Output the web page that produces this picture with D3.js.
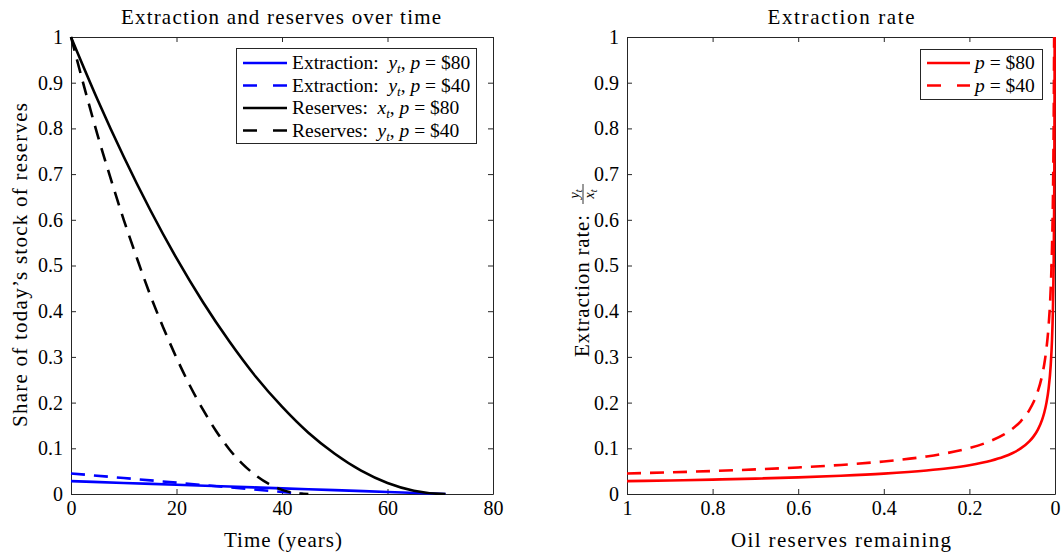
<!DOCTYPE html>
<html>
<head>
<meta charset="utf-8">
<script src="https://cdn.jsdelivr.net/npm/d3@7"></script>
<style>
  body { margin: 0; background: #fff; }
  svg text { font-family: "Liberation Serif", "Times New Roman", serif; fill: #000; }
</style>
</head>
<body>
<svg id="chart" width="1061" height="557"></svg>
<script>
// ---- Left panel: reserves and extraction paths over time (years) ----
const timeP80 = [0, 5, 10, 15, 20, 25, 30, 35, 40, 45, 50, 55, 60, 65, 70, 71];
const reservesP80 = [1, 0.864, 0.738, 0.622, 0.516, 0.420, 0.334, 0.257, 0.191, 0.134, 0.088, 0.051, 0.024, 0.007, 0.0002, 0];

const timeP40 = [0, 2.5, 5, 7.5, 10, 12.5, 15, 17.5, 20, 22.5, 25, 27.5, 30, 32.5, 35, 37.5, 40, 42.5, 45];
const reservesP40 = [1, 0.891, 0.787, 0.691, 0.600, 0.516, 0.436, 0.364, 0.298, 0.238, 0.185, 0.138, 0.098, 0.066, 0.041, 0.022, 0.009, 0.002, 0];

const extractTimeP80 = [0, 10, 20, 30, 40, 50, 60, 71];
const extractionP80 = [0.0282, 0.0242, 0.0203, 0.0163, 0.0123, 0.0084, 0.0044, 0];

const extractTimeP40 = [0, 10, 20, 30, 40, 44];
const extractionP40 = [0.045, 0.0349, 0.0248, 0.0146, 0.0045, 0];

// ---- Right panel: extraction rate y/x against reserves remaining ----
const remaining80 = [1, 0.9, 0.8, 0.7, 0.6, 0.5, 0.4, 0.3, 0.25, 0.2, 0.15, 0.12, 0.1, 0.08, 0.06, 0.05, 0.04, 0.03, 0.025, 0.02, 0.015, 0.01, 0.007, 0.005, 0.004, 0.003, 0.002, 0.0015, 0.001, 0.0008];
const rate80 = [0.0282, 0.0297, 0.0315, 0.0337, 0.0364, 0.0399, 0.0446, 0.0515, 0.0564, 0.0631, 0.0728, 0.0814, 0.0892, 0.0997, 0.1151, 0.1261, 0.141, 0.1628, 0.1784, 0.1994, 0.2302, 0.282, 0.337, 0.399, 0.446, 0.515, 0.631, 0.728, 0.892, 1.0];

const remaining40 = [1, 0.9, 0.8, 0.7, 0.6, 0.5, 0.4, 0.3, 0.25, 0.2, 0.15, 0.12, 0.1, 0.08, 0.06, 0.05, 0.04, 0.03, 0.025, 0.02, 0.015, 0.01, 0.007, 0.005, 0.004, 0.003, 0.002];
const rate40 = [0.045, 0.0474, 0.0503, 0.0538, 0.0581, 0.0636, 0.0712, 0.0822, 0.090, 0.1006, 0.1162, 0.1299, 0.1423, 0.1591, 0.1837, 0.2012, 0.225, 0.2598, 0.2846, 0.3182, 0.3674, 0.45, 0.538, 0.636, 0.711, 0.822, 1.0];

// ---- Tick values and labels ----
const timeTicks = [0, 20, 40, 60, 80];
const timeTickLabels = ["0", "20", "40", "60", "80"];
const shareTicks = [0, 0.1, 0.2, 0.3, 0.4, 0.5, 0.6, 0.7, 0.8, 0.9, 1];
const shareTickLabels = ["0", "0.1", "0.2", "0.3", "0.4", "0.5", "0.6", "0.7", "0.8", "0.9", "1"];
const remainingTicks = [1, 0.8, 0.6, 0.4, 0.2, 0];
const remainingTickLabels = ["1", "0.8", "0.6", "0.4", "0.2", "0"];

const svg = d3.select("#chart");
svg.append("rect").attr("width", 1061).attr("height", 557).attr("fill", "#fff");

const AXIS_COLOR = "#262626";
const plotTop = 37, plotBottom = 494;

const xLeft = d3.scaleLinear().domain([0, 80]).range([71, 493]);
const yLeft = d3.scaleLinear().domain([0, 1]).range([plotBottom, plotTop]);
const xRight = d3.scaleLinear().domain([1, 0]).range([627, 1055]);
const yRight = d3.scaleLinear().domain([0, 1]).range([plotBottom, plotTop]);

function styleAxis(g) {
  g.attr("font-family", "Liberation Serif, Times New Roman, serif").attr("font-size", 20);
  g.selectAll(".domain").attr("stroke", AXIS_COLOR).attr("stroke-width", 1);
  g.selectAll(".tick line").attr("stroke", AXIS_COLOR).attr("stroke-width", 1);
  g.selectAll(".tick text").attr("fill", "#000");
}

function drawFrame(x, y, xTicks, xLabels, yTicks, yLabels) {
  const [x0, x1] = x.range();
  const g = svg.append("g");
  g.append("g").attr("transform", `translate(0,${plotBottom})`)
    .call(d3.axisBottom(x).tickValues(xTicks).tickFormat((d, i) => xLabels[i])
      .tickSizeInner(-5).tickSizeOuter(0).tickPadding(7))
    .call(styleAxis);
  g.append("g").attr("transform", `translate(0,${plotTop})`)
    .call(d3.axisTop(x).tickValues(xTicks).tickFormat("")
      .tickSizeInner(-5).tickSizeOuter(0))
    .call(styleAxis);
  g.append("g").attr("transform", `translate(${Math.min(x0, x1)},0)`)
    .call(d3.axisLeft(y).tickValues(yTicks).tickFormat((d, i) => yLabels[i])
      .tickSizeInner(-5).tickSizeOuter(0).tickPadding(8))
    .call(styleAxis);
  g.append("g").attr("transform", `translate(${Math.max(x0, x1)},0)`)
    .call(d3.axisRight(y).tickValues(yTicks).tickFormat("")
      .tickSizeInner(-5).tickSizeOuter(0))
    .call(styleAxis);
}

function clipFor(id, x) {
  const [a, b] = x.range();
  svg.append("clipPath").attr("id", id).append("rect")
    .attr("x", Math.min(a, b) - 3).attr("y", plotTop - 1)
    .attr("width", Math.abs(b - a) + 6).attr("height", plotBottom - plotTop + 2);
}

function drawSeries(id, x, y, xs, ys, color, dashed) {
  const pts = xs.map((v, i) => [v, ys[i]]);
  const line = d3.line().x(d => x(d[0])).y(d => y(d[1])).curve(d3.curveMonotoneX);
  svg.append("path").datum(pts)
    .attr("clip-path", `url(#${id})`)
    .attr("d", line)
    .attr("fill", "none")
    .attr("stroke", color)
    .attr("stroke-width", 2.6)
    .attr("stroke-dasharray", dashed ? "14,9" : null);
}

// Rich text pieces: italic symbols and subscripts
function mathLabel(text, parts) {
  parts.forEach(p => {
    const t = text.append("tspan").text(p.s);
    if (p.it) t.attr("font-style", "italic");
    if (p.sub) t.attr("font-size", 13).attr("dy", 4);
    if (p.up) t.attr("dy", -4);
  });
}

// ---------------- Left panel ----------------
drawFrame(xLeft, yLeft, timeTicks, timeTickLabels, shareTicks, shareTickLabels);
clipFor("clipL", xLeft);
drawSeries("clipL", xLeft, yLeft, extractTimeP80, extractionP80, "#0000ff", false);
drawSeries("clipL", xLeft, yLeft, extractTimeP40, extractionP40, "#0000ff", true);
drawSeries("clipL", xLeft, yLeft, timeP80, reservesP80, "#000000", false);
drawSeries("clipL", xLeft, yLeft, timeP40, reservesP40, "#000000", true);

svg.append("text").attr("x", 281).attr("y", 24).attr("text-anchor", "middle")
  .attr("font-size", 21).attr("textLength", 320).attr("lengthAdjust", "spacing")
  .text("Extraction and reserves over time");
svg.append("text").attr("x", 283).attr("y", 547).attr("text-anchor", "middle")
  .attr("font-size", 21).attr("textLength", 118).attr("lengthAdjust", "spacing")
  .text("Time (years)");
svg.append("text").attr("transform", "translate(27,265) rotate(-90)").attr("text-anchor", "middle")
  .attr("font-size", 21).attr("textLength", 324).attr("lengthAdjust", "spacing")
  .text("Share of today\u2019s stock of reserves");

// Left legend
const legL = [
  { color: "#0000ff", dashed: false, parts: [{ s: "Extraction:  " }, { s: "y", it: true }, { s: "t", it: true, sub: true }, { s: ", ", up: true }, { s: "p", it: true }, { s: " = $80" }] },
  { color: "#0000ff", dashed: true, parts: [{ s: "Extraction:  " }, { s: "y", it: true }, { s: "t", it: true, sub: true }, { s: ", ", up: true }, { s: "p", it: true }, { s: " = $40" }] },
  { color: "#000000", dashed: false, parts: [{ s: "Reserves:  " }, { s: "x", it: true }, { s: "t", it: true, sub: true }, { s: ", ", up: true }, { s: "p", it: true }, { s: " = $80" }] },
  { color: "#000000", dashed: true, parts: [{ s: "Reserves:  " }, { s: "y", it: true }, { s: "t", it: true, sub: true }, { s: ", ", up: true }, { s: "p", it: true }, { s: " = $40" }] }
];
svg.append("rect").attr("x", 236.5).attr("y", 48.5).attr("width", 240).attr("height", 95)
  .attr("fill", "#fff").attr("stroke", AXIS_COLOR).attr("stroke-width", 1);
legL.forEach((d, i) => {
  const yy = 63 + i * 22.5;
  svg.append("line").attr("x1", 243).attr("x2", 287).attr("y1", yy).attr("y2", yy)
    .attr("stroke", d.color).attr("stroke-width", 2.6).attr("stroke-dasharray", d.dashed ? "14,16" : null);
  const t = svg.append("text").attr("x", 292).attr("y", yy + 6).attr("font-size", 19.5).attr("xml:space", "preserve");
  mathLabel(t, d.parts);
});

// ---------------- Right panel ----------------
drawFrame(xRight, yRight, remainingTicks, remainingTickLabels, shareTicks, shareTickLabels);
clipFor("clipR", xRight);
drawSeries("clipR", xRight, yRight, remaining80, rate80, "#ff0000", false);
drawSeries("clipR", xRight, yRight, remaining40, rate40, "#ff0000", true);

svg.append("text").attr("x", 841).attr("y", 24).attr("text-anchor", "middle")
  .attr("font-size", 21).attr("textLength", 147).attr("lengthAdjust", "spacing")
  .text("Extraction rate");
svg.append("text").attr("x", 841).attr("y", 547).attr("text-anchor", "middle")
  .attr("font-size", 21).attr("textLength", 220).attr("lengthAdjust", "spacing")
  .text("Oil reserves remaining");

// Rotated y label with fraction y_t / x_t
const yl = svg.append("g").attr("transform", "translate(589,266) rotate(-90)");
yl.append("text").attr("x", 51).attr("y", 0).attr("text-anchor", "end")
  .attr("font-size", 21).attr("textLength", 142).attr("lengthAdjust", "spacing")
  .text("Extraction rate:");
const num = yl.append("text").attr("x", 72).attr("y", -10).attr("text-anchor", "middle").attr("font-size", 14);
num.append("tspan").attr("font-style", "italic").text("y");
num.append("tspan").attr("font-style", "italic").attr("font-size", 10).attr("dy", 3).text("t");
yl.append("line").attr("x1", 62).attr("x2", 82).attr("y1", -6).attr("y2", -6)
  .attr("stroke", "#000").attr("stroke-width", 0.8);
const den = yl.append("text").attr("x", 72).attr("y", 5).attr("text-anchor", "middle").attr("font-size", 14);
den.append("tspan").attr("font-style", "italic").text("x");
den.append("tspan").attr("font-style", "italic").attr("font-size", 10).attr("dy", 3).text("t");

// Right legend
const legR = [
  { color: "#ff0000", dashed: false, label: " = $80" },
  { color: "#ff0000", dashed: true, label: " = $40" }
];
svg.append("rect").attr("x", 920.5).attr("y", 49.5).attr("width", 122).attr("height", 50)
  .attr("fill", "#fff").attr("stroke", AXIS_COLOR).attr("stroke-width", 1);
legR.forEach((d, i) => {
  const yy = 63 + i * 22.5;
  svg.append("line").attr("x1", 927).attr("x2", 970).attr("y1", yy).attr("y2", yy)
    .attr("stroke", d.color).attr("stroke-width", 2.6).attr("stroke-dasharray", d.dashed ? "14,16" : null);
  const t = svg.append("text").attr("x", 975).attr("y", yy + 6).attr("font-size", 19.5).attr("xml:space", "preserve");
  t.append("tspan").attr("font-style", "italic").text("p");
  t.append("tspan").text(d.label);
});
</script>
</body>
</html>
